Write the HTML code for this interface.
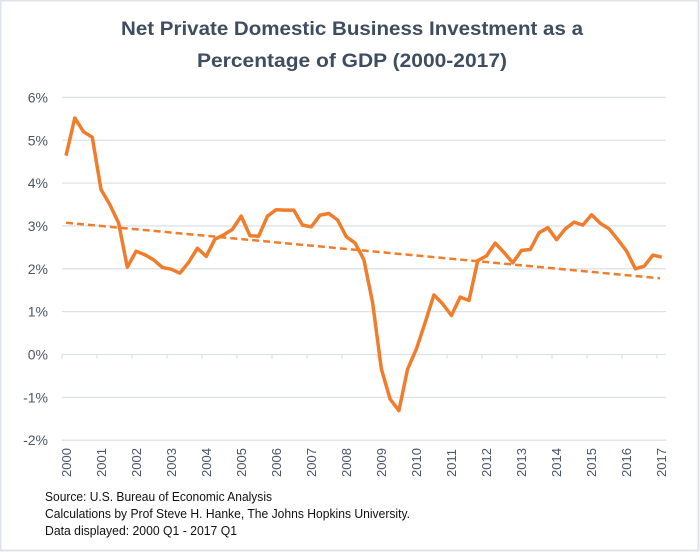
<!DOCTYPE html>
<html><head><meta charset="utf-8"><style>
html,body{margin:0;padding:0;background:#fff;}
svg{display:block;font-family:"Liberation Sans",sans-serif;}
</style></head><body>
<svg id="s" width="700" height="552" xmlns="http://www.w3.org/2000/svg">
<rect x="0.5" y="0.5" width="698" height="550" fill="#fff" stroke="#dfe3ea" stroke-width="2"/>
<text x="352" y="35" text-anchor="middle" font-size="19" font-weight="bold" fill="#3e4d5f" textLength="462" lengthAdjust="spacingAndGlyphs">Net Private Domestic Business Investment as a</text>
<text x="352" y="67" text-anchor="middle" font-size="19" font-weight="bold" fill="#3e4d5f" textLength="310" lengthAdjust="spacingAndGlyphs">Percentage of GDP (2000-2017)</text>
<g id="grid"></g>
<g id="lab" font-size="14" fill="#4a5568"></g>
<line x1="66" y1="222.7" x2="660" y2="278.3" stroke="#f07d2c" stroke-width="2.5" stroke-dasharray="7,4"/>
<polyline id="pl" fill="none" stroke="#f07d2c" stroke-width="3.5" stroke-linejoin="round" points=""/>
<g font-size="12.5" fill="#111">
<text x="45" y="501" textLength="227" lengthAdjust="spacingAndGlyphs">Source: U.S. Bureau of Economic Analysis</text>
<text x="45" y="518" textLength="365" lengthAdjust="spacingAndGlyphs">Calculations by Prof Steve H. Hanke, The Johns Hopkins University.</text>
<text x="45" y="535" textLength="192" lengthAdjust="spacingAndGlyphs">Data displayed: 2000 Q1 - 2017 Q1</text>
</g>
</svg>
<script>
var ns="http://www.w3.org/2000/svg";
function el(t,a,p,txt){var e=document.createElementNS(ns,t);for(var k in a)e.setAttribute(k,a[k]);if(txt)e.textContent=txt;document.getElementById(p).appendChild(e);return e;}
function Y(v){return 354.5-v*42.85;}
for(var v=-2;v<=6;v++){
 if(v!==0) el("line",{x1:62,x2:666,y1:Y(v),y2:Y(v),stroke:"#dde2ea","stroke-width":1.3},"grid");
 el("text",{x:48,y:Y(v)+5,"text-anchor":"end"},"lab",v+"%");
}
el("line",{x1:62,x2:666,y1:Y(0),y2:Y(0),stroke:"#dde2ea","stroke-width":1.3},"grid");
for(var i=0;i<=17;i++){
 var x=62+i*35;
 el("line",{x1:x,x2:x,y1:Y(0),y2:Y(0)+4,stroke:"#dde2ea","stroke-width":1.3},"grid");
 el("text",{transform:"translate("+(x+9)+",477) rotate(-90)","font-size":13},"lab",String(2000+i));
}
var d=[4.64,5.52,5.2,5.07,3.85,3.5,3.07,2.04,2.41,2.33,2.21,2.03,1.99,1.9,2.15,2.48,2.29,2.69,2.79,2.92,3.23,2.77,2.76,3.23,3.38,3.37,3.37,3.02,2.98,3.25,3.29,3.14,2.75,2.6,2.22,1.21,-0.34,-1.04,-1.31,-0.34,0.13,0.75,1.39,1.18,0.91,1.34,1.26,2.19,2.3,2.6,2.38,2.14,2.43,2.45,2.84,2.96,2.68,2.93,3.09,3.02,3.26,3.06,2.93,2.68,2.41,2.0,2.06,2.32,2.27];
var p=d.map(function(v,i){return (66+i*8.76).toFixed(1)+","+Y(v).toFixed(1);}).join(" ");
document.getElementById("pl").setAttribute("points",p);
</script>
</body></html>
